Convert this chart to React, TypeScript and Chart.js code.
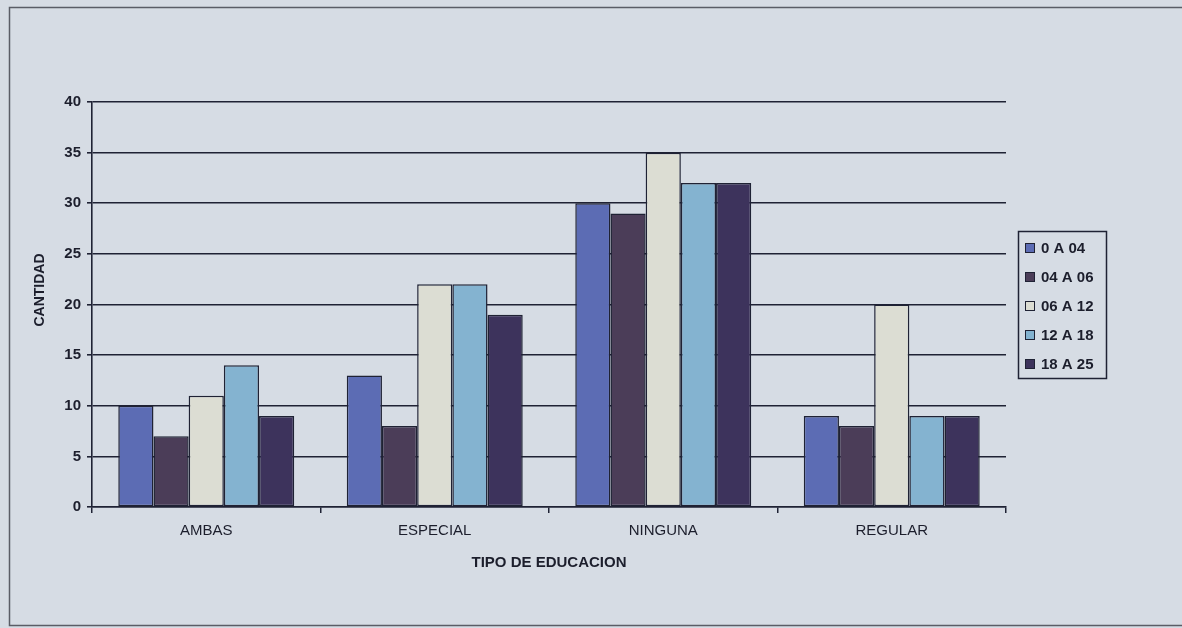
import React, { useEffect, useRef } from "react";
import { Chart, registerables } from "chart.js";

Chart.register(...registerables);

const categories = ["AMBAS", "ESPECIAL", "NINGUNA", "REGULAR"];
const seriesNames = ["0 A 04", "04 A 06", "06 A 12", "12 A 18", "18 A 25"];
const s0a04 = [10, 13, 30, 9];
const s04a06 = [7, 8, 29, 8];
const s06a12 = [11, 22, 35, 20];
const s12a18 = [14, 22, 32, 9];
const s18a25 = [9, 19, 32, 9];
const seriesValues = [s0a04, s04a06, s06a12, s12a18, s18a25];
const seriesColors = ["#5c6cb4", "#4b3d58", "#dcddd3", "#84b3d0", "#3d335c"];
const yTicks = [0, 5, 10, 15, 20, 25, 30, 35, 40];
const yTitle = "CANTIDAD";
const xTitle = "TIPO DE EDUCACION";

const BG = "#d6dce4";
const INK = "#1f2234";
const TEXT = "#1c1e2c";
const FONT = "'Liberation Sans', Arial, sans-serif";

const framePlugin = {
  id: "framePlugin",
  beforeDraw(chart: any) {
    const ctx = chart.ctx;
    ctx.save();
    ctx.fillStyle = BG;
    ctx.fillRect(0, 0, chart.width, chart.height);
    ctx.restore();
  },
  afterDraw(chart: any) {
    const ctx = chart.ctx;
    ctx.save();
    // outer frame
    ctx.strokeStyle = "#5a5d66";
    ctx.lineWidth = 1.5;
    ctx.strokeRect(9.5, 7.5, chart.width + 10, 618);
    // y axis title
    ctx.save();
    ctx.translate(40, 290);
    ctx.rotate(-Math.PI / 2);
    ctx.font = "bold 14px " + FONT;
    ctx.fillStyle = TEXT;
    ctx.textAlign = "center";
    ctx.textBaseline = "middle";
    ctx.fillText(yTitle, 0, 0);
    ctx.restore();
    // legend
    const lx = 1018.5, ly = 231.5, lw = 88, lh = 147;
    ctx.strokeStyle = INK;
    ctx.lineWidth = 1.5;
    ctx.strokeRect(lx, ly, lw, lh);
    ctx.font = "bold 15px " + FONT;
    ctx.textBaseline = "middle";
    ctx.textAlign = "left";
    chart.data.datasets.forEach((ds: any, i: number) => {
      const cy = 248 + i * 29;
      ctx.fillStyle = ds.backgroundColor;
      ctx.fillRect(1025, cy - 5, 10, 10);
      ctx.strokeStyle = INK;
      ctx.lineWidth = 1;
      ctx.strokeRect(1025.5, cy - 4.5, 9, 9);
      ctx.fillStyle = TEXT;
      ctx.fillText(ds.label, 1041, cy + 1);
    });
    ctx.restore();
  },
};

export default function App() {
  const ref = useRef<HTMLCanvasElement | null>(null);
  useEffect(() => {
    if (!ref.current) return;
    const chart = new Chart(ref.current, {
      type: "bar",
      data: {
        labels: categories,
        datasets: seriesNames.map((name, i) => ({
          label: name,
          data: seriesValues[i],
          backgroundColor: seriesColors[i],
          borderColor: INK,
          borderWidth: 1.5,
          borderSkipped: false,
          categoryPercentage: 0.77,
          barPercentage: 1.0,
        })),
      },
      options: {
        animation: false,
        responsive: false,
        devicePixelRatio: 1,
        layout: { padding: { left: 0, top: 102, right: 176, bottom: 0 } },
        plugins: {
          legend: { display: false },
          tooltip: { enabled: false },
        },
        scales: {
          x: {
            afterFit(scale: any) {
              scale.height = 121;
            },
            grid: {
              display: true,
              drawOnChartArea: false,
              drawTicks: true,
              tickLength: 6,
              color: INK,
              lineWidth: 1.5,
              offset: true,
            },
            border: { display: true, color: INK, width: 1.5 },
            ticks: {
              color: TEXT,
              font: { family: FONT, size: 15 },
              padding: 9,
            },
            title: {
              display: true,
              text: xTitle,
              color: TEXT,
              font: { family: FONT, size: 15, weight: "bold" },
              padding: { top: 4, bottom: 56 },
            },
          },
          y: {
            min: 0,
            max: 40,
            afterFit(scale: any) {
              scale.width = 92;
            },
            afterBuildTicks(scale: any) {
              scale.ticks = yTicks.map((v) => ({ value: v }));
            },
            grid: {
              color: INK,
              lineWidth: 1.6,
              tickLength: 5,
              drawTicks: true,
            },
            border: { display: true, color: INK, width: 1.6 },
            ticks: {
              color: TEXT,
              font: { family: FONT, size: 15, weight: "bold" },
              padding: 6,
            },
            title: { display: false },
          },
        },
      },
      plugins: [framePlugin],
    });
    return () => chart.destroy();
  }, []);
  return (
    <div style={{ position: "absolute", left: 0, top: 0, width: 1182, height: 628 }}>
      <canvas ref={ref} width={1182} height={628} style={{ width: 1182, height: 628, display: "block" }} />
    </div>
  );
}
